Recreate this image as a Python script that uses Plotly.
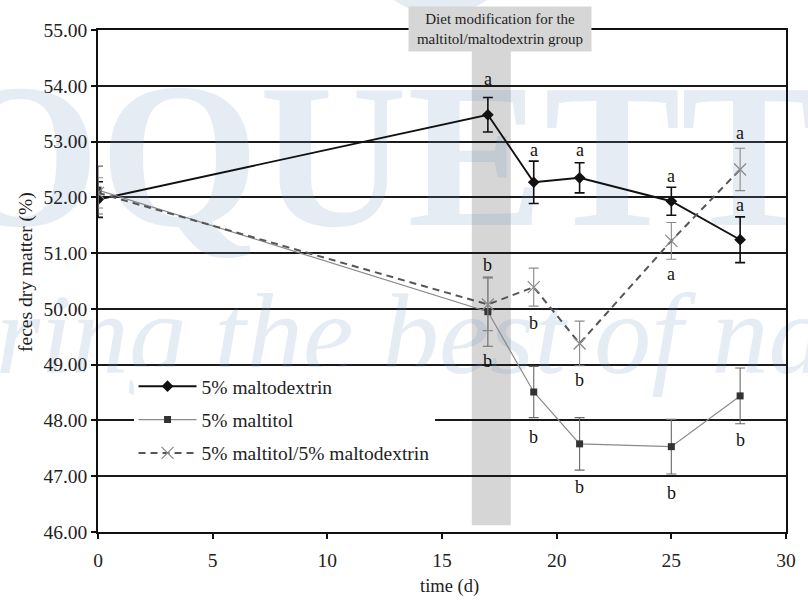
import plotly.graph_objects as go

# ---------------- data ----------------
time_d = [0, 17, 19, 21, 25, 28]
maltodextrin = [51.96, 53.48, 52.27, 52.35, 51.93, 51.24]
maltodextrin_err = [0.32, 0.31, 0.38, 0.27, 0.25, 0.41]
maltitol = [52.13, 49.95, 48.51, 47.58, 47.53, 48.44]
maltitol_err = [0.43, 0.62, 0.46, 0.47, 0.49, 0.50]
mix = [52.08, 50.08, 50.39, 49.38, 51.22, 52.50]
mix_err = [0.27, 0.47, 0.34, 0.40, 0.33, 0.38]

series_names = ["5% maltodextrin", "5% maltitol", "5% maltitol/5% maltodextrin"]

# significance letters
letter_x = [17, 19, 21, 25, 28, 28, 25, 17, 17, 19, 19, 21, 21, 25, 28]
letter_y = [54.12, 52.84, 52.84, 52.39, 53.15, 51.86, 50.62,
            50.78, 49.07, 49.75, 47.70, 48.72, 46.80, 46.70, 47.65]
letter_text = ["a", "a", "a", "a", "a", "a", "a",
               "b", "b", "b", "b", "b", "b", "b", "b"]

band_x = [16.3, 18.0]
band_y = [46.12, 54.64]
band_label = "Diet modification for the<br>maltitol/maltodextrin group"

x_title = "time (d)"
y_title = "feces dry matter (%)"

watermark_big = "ROQUETTE"
watermark_small = "bring the best of nature"

SERIF = "Liberation Serif"
WM = "rgba(110,150,195,0.18)"

fig = go.Figure()

# watermark (drawn first, below the data)
fig.add_trace(go.Scatter(
    x=[12.0], y=[52.42], mode="text", text=[watermark_big],
    textposition="middle center",
    textfont=dict(family=SERIF, size=205, color=WM, weight="bold"),
    cliponaxis=False, showlegend=False, hoverinfo="skip"))
fig.add_trace(go.Scatter(
    x=[16.3], y=[49.36], mode="text", text=[watermark_small],
    textposition="middle center",
    textfont=dict(family=SERIF, size=114, color=WM, style="italic"),
    cliponaxis=False, showlegend=False, hoverinfo="skip"))

fig.add_trace(go.Scatter(
    x=time_d, y=maltodextrin, name=series_names[0], mode="lines+markers",
    line=dict(color="#111111", width=1.9),
    marker=dict(symbol="diamond", size=9, color="#111111"),
    error_y=dict(type="data", array=maltodextrin_err, color="#111111",
                 thickness=1.6, width=5),
    legendgroup="g1"))
fig.add_trace(go.Scatter(
    x=time_d, y=maltitol, name=series_names[1], mode="lines+markers",
    line=dict(color="#8a8a8a", width=1.2),
    marker=dict(symbol="square", size=7, color="#333333"),
    error_y=dict(type="data", array=maltitol_err, color="#6a6a6a",
                 thickness=1.1, width=5),
    legendgroup="g2"))
fig.add_trace(go.Scatter(
    x=time_d, y=mix, name=series_names[2], mode="lines+markers",
    line=dict(color="#555555", width=2, dash="7px,5px"),
    marker=dict(symbol="x-thin-open", size=12, color="#8a8a8a",
                line=dict(color="#8a8a8a", width=1.3)),
    error_y=dict(type="data", array=mix_err, color="#8a8a8a",
                 thickness=1.1, width=5),
    legendgroup="g3"))

# shaded band
fig.add_shape(type="rect", xref="x", yref="y",
              x0=band_x[0], x1=band_x[1], y0=band_y[0], y1=band_y[1],
              fillcolor="#d6d6d6", line=dict(width=0), layer="below")

# logo arc at top
fig.add_shape(type="circle", xref="paper", yref="paper",
              x0=(370 - 98) / 697, x1=(520 - 98) / 697,
              y0=(532 - 15) / 502, y1=(532 + 120) / 502,
              fillcolor="rgba(110,150,195,0.18)", line=dict(width=0), layer="below")

annotations = []
for lx, ly, lt in zip(letter_x, letter_y, letter_text):
    annotations.append(dict(x=lx, y=ly, xref="x", yref="y", text=lt,
                            showarrow=False, xanchor="center", yanchor="middle",
                            font=dict(family=SERIF, size=18, color="#111111")))

annotations.append(dict(
    x=17.55, y=(532 - 28.5) / 502, xref="x", yref="paper",
    text=band_label, showarrow=False, bgcolor="#d6d6d6", borderpad=4,
    width=174, xanchor="center", yanchor="middle",
    font=dict(family=SERIF, size=15, color="#222222")))

annotations.append(dict(
    x=(25 - 98) / 697, y=(532 - 272) / 502, xref="paper", yref="paper",
    text=y_title, textangle=-90, showarrow=False,
    xanchor="center", yanchor="middle",
    font=dict(family=SERIF, size=19.5, color="#222222")))
annotations.append(dict(
    x=(454 - 98) / 697, y=(532 - 586) / 502, xref="paper", yref="paper",
    text=x_title, showarrow=False, xanchor="center", yanchor="middle",
    font=dict(family=SERIF, size=18.5, color="#222222")))

fig.update_layout(
    width=808, height=601,
    margin=dict(l=98, r=13, t=30, b=69),
    paper_bgcolor="white", plot_bgcolor="rgba(0,0,0,0)",
    font=dict(family=SERIF, size=18, color="#222222"),
    showlegend=True,
    legend=dict(x=(134 - 98) / 697, y=(532 - 367) / 502,
                xanchor="left", yanchor="top",
                bgcolor="white", borderwidth=0,
                font=dict(family=SERIF, size=19.5, color="#222222"),
                tracegroupgap=5, itemwidth=58),
    annotations=annotations,
)

fig.update_xaxes(range=[0, 30], dtick=5, tick0=0,
                 showgrid=False, zeroline=False,
                 showline=True, linecolor="#111111", linewidth=1.6, mirror=True,
                 ticks="outside", ticklen=5, tickcolor="#111111", tickwidth=1.5,
                 ticklabelstandoff=5,
                 tickfont=dict(family=SERIF, size=19.5, color="#222222"))
fig.update_yaxes(range=[46, 55], dtick=1, tick0=46, tickformat=".2f",
                 showgrid=True, gridcolor="#1a1a1a", gridwidth=1.7,
                 zeroline=False,
                 showline=True, linecolor="#111111", linewidth=1.6, mirror=True,
                 ticks="outside", ticklen=5, tickcolor="#111111", tickwidth=1.5,
                 tickfont=dict(family=SERIF, size=19.5, color="#222222"))

fig.write_html("out.html")
